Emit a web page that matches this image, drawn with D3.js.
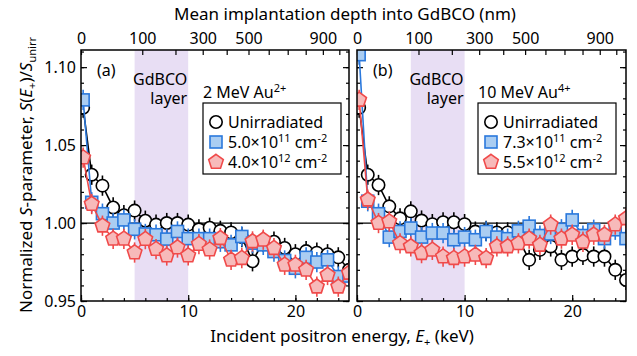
<!DOCTYPE html>
<html>
<head>
<meta charset="utf-8">
<script src="https://cdn.jsdelivr.net/npm/d3@7"></script>
<style>
  body { margin: 0; background: #fff; }
  svg text { font-family: "Noto Sans", sans-serif; fill: #000; }
</style>
</head>
<body>
<div id="chart"></div>
<script>
// incident positron energies (keV)
var energies = [0.2, 1, 2, 3, 4, 5, 6, 7, 8, 9, 10, 11, 12, 13, 14, 15, 16, 17, 18, 19, 20, 21, 22, 23, 24, 25];

// panel (a): 2 MeV Au2+
var unirrA = [1.074, 1.031, 1.024, 1.010, 1.005, 1.008, 1.0015, 0.999, 1.000, 1.000, 0.999, 0.996, 0.997, 0.995, 0.994, 0.991, 0.9755, 0.988, 0.988, 0.984, 0.980, 0.982, 0.981, 0.980, 0.978, 0.970];
var lowA   = [1.079, 1.0133, 1.006, 1.000, 1.002, 0.996, 0.993, 0.9925, 0.9897, 0.9946, 0.990, 0.990, 0.990, 0.988, 0.986, 0.9914, 0.9871, 0.986, 0.9817, 0.976, 0.971, 0.978, 0.975, 0.9764, 0.9657, 0.966];
var highA  = [1.042, 1.0122, 0.9983, 0.9899, 0.9899, 0.9811, 0.9897, 0.9833, 0.9792, 0.9843, 0.9792, 0.9865, 0.983, 0.9903, 0.9764, 0.9775, 0.9882, 0.9893, 0.9839, 0.9732, 0.9732, 0.970, 0.9592, 0.9667, 0.9592, 0.968];

// panel (b): 10 MeV Au4+
var unirrB = [1.074, 1.031, 1.0244, 1.0107, 1.003, 1.0075, 1.0016, 0.9993, 1.0005, 1.0005, 0.9993, 0.9945, 0.995, 0.994, 0.994, 0.990, 0.9764, 0.9828, 0.985, 0.9764, 0.9785, 0.9796, 0.9785, 0.9785, 0.970, 0.9635];
var lowB   = [1.108, 1.014, 1.006, 0.991, 0.9946, 0.9968, 0.991, 0.9936, 0.9936, 0.9893, 0.991, 0.9893, 0.9946, 0.991, 0.990, 0.995, 0.998, 0.992, 0.993, 0.996, 1.002, 0.992, 0.9957, 0.990, 0.9957, 0.990];
var highB  = [1.079, 1.015, 1.000, 1.001, 0.987, 0.985, 0.9807, 0.9828, 0.9785, 0.9775, 0.9785, 0.9796, 0.9775, 0.985, 0.985, 0.987, 0.990, 0.986, 0.999, 0.990, 0.9925, 0.988, 0.9925, 0.9925, 0.999, 1.003];

var errS = 0.0065;

var panelNames = ["(a)", "(b)"];
var ionLabels = [["2 MeV Au", "2+"], ["10 MeV Au", "4+"]];
var fluenceLabels = [[["5.0\u00d710", "11"], ["4.0\u00d710", "12"]], [["7.3\u00d710", "11"], ["5.5\u00d710", "12"]]];

var energyTicks = [0, 10, 20];
var sTicks = [0.95, 1.00, 1.05, 1.10];
var depthTicks = [0, 100, 200, 300, 400, 500, 600, 700, 800, 900, 1000];
var depthLabels = [0, 100, 300, 500, 900];
var layerRange = [5, 10];

// mean depth z = a * E^1.6 (nm)
var depthA = 6.15;

var W = 637, H = 356;
var svg = d3.select("#chart").append("svg")
  .attr("width", W).attr("height", H);

var yTop = 50, yBottom = 301;
var panels = [{x0: 81, x1: 349}, {x0: 357, x1: 626}];

var y = d3.scaleLinear().domain([0.95, 1.111]).range([yBottom, yTop]);

var styles = [
  {stroke: "#000", fill: "#fff", sym: "circle"},
  {stroke: "#2a78dc", fill: "#aacdf2", sym: "square"},
  {stroke: "#f04a4a", fill: "#f7baba", sym: "pentagon"}
];

var pentagon = {
  draw: function(ctx, size) {
    var r = Math.sqrt(size / 2.378);
    for (var i = 0; i < 5; i++) {
      var a = -Math.PI / 2 + i * 2 * Math.PI / 5;
      if (i == 0) ctx.moveTo(r * Math.cos(a), r * Math.sin(a));
      else ctx.lineTo(r * Math.cos(a), r * Math.sin(a));
    }
    ctx.closePath();
  }
};

function marker(sel, st) {
  if (st.sym == "circle") {
    sel.append("circle").attr("r", 6.2);
  } else if (st.sym == "square") {
    sel.append("rect").attr("x", -6).attr("y", -6).attr("width", 12).attr("height", 12);
  } else {
    sel.append("path").attr("d", d3.symbol().type(pentagon).size(140)());
  }
  sel.selectAll("*").attr("fill", st.fill).attr("stroke", st.stroke).attr("stroke-width", 1.6);
}

var allData = [[unirrA, lowA, highA], [unirrB, lowB, highB]];

panels.forEach(function(p, pi) {
  var x = d3.scaleLinear().domain([0, 25]).range([p.x0, p.x1]);
  var xDepth = d3.scalePow().exponent(0.625)
    .domain([0, depthA * Math.pow(25, 1.6)]).range([p.x0, p.x1]);

  var g = svg.append("g");

  g.append("clipPath").attr("id", "clip" + pi)
    .append("rect").attr("x", p.x0).attr("y", yTop)
    .attr("width", p.x1 - p.x0).attr("height", yBottom - yTop);

  // GdBCO layer band
  g.append("rect")
    .attr("x", x(layerRange[0])).attr("y", yTop)
    .attr("width", x(layerRange[1]) - x(layerRange[0]))
    .attr("height", yBottom - yTop)
    .attr("fill", "#e8def4");

  g.append("line")
    .attr("x1", p.x0).attr("x2", p.x1)
    .attr("y1", y(1)).attr("y2", y(1))
    .attr("stroke", "#000").attr("stroke-width", 1.3);

  // axes with inward ticks
  g.append("g").attr("transform", "translate(0," + yBottom + ")")
    .call(d3.axisBottom(x).tickValues(d3.range(0, 26, 2)).tickSize(-3).tickFormat(""));
  g.append("g").attr("class", "tl").attr("transform", "translate(0," + yBottom + ")")
    .call(d3.axisBottom(x).tickValues(energyTicks).tickSize(-6).tickPadding(5).tickFormat(d3.format("d")));

  g.append("g").attr("class", "tl").attr("transform", "translate(0," + yTop + ")")
    .call(d3.axisTop(xDepth).tickValues(depthTicks).tickSize(-5).tickPadding(6)
      .tickFormat(function(d) { return depthLabels.indexOf(d) >= 0 ? d : ""; }));

  var minorY = d3.range(95, 112).map(function(v) { return v / 100; });
  g.append("g").attr("transform", "translate(" + p.x0 + ",0)")
    .call(d3.axisLeft(y).tickValues(minorY).tickSize(-3).tickFormat(""));
  g.append("g").attr("transform", "translate(" + p.x1 + ",0)")
    .call(d3.axisRight(y).tickValues(minorY).tickSize(-3).tickFormat(""));
  g.append("g").attr("class", "tl").attr("transform", "translate(" + p.x0 + ",0)")
    .call(d3.axisLeft(y).tickValues(sTicks).tickSize(-6).tickPadding(5)
      .tickFormat(pi == 0 ? d3.format(".2f") : function() { return ""; }));
  g.append("g").attr("transform", "translate(" + p.x1 + ",0)")
    .call(d3.axisRight(y).tickValues(sTicks).tickSize(-6).tickFormat(""));

  g.selectAll(".domain").remove();
  g.selectAll(".tick line").attr("stroke", "#000").attr("stroke-width", 1.2);
  g.selectAll(".tl text").attr("font-size", 16).attr("font-family", "Noto Sans");

  // series
  var plot = g.append("g").attr("clip-path", "url(#clip" + pi + ")");
  allData[pi].forEach(function(vals, si) {
    var st = styles[si];
    var pts = energies.map(function(e, i) { return {e: e, v: vals[i]}; });
    plot.append("path").datum(pts)
      .attr("fill", "none").attr("stroke", st.stroke).attr("stroke-width", 1.6)
      .attr("d", d3.line().x(function(d) { return x(d.e); }).y(function(d) { return y(d.v); }));
    plot.selectAll(null).data(pts).enter().append("line")
      .attr("x1", function(d) { return x(d.e); }).attr("x2", function(d) { return x(d.e); })
      .attr("y1", function(d) { return y(d.v - errS); }).attr("y2", function(d) { return y(d.v + errS); })
      .attr("stroke", st.stroke).attr("stroke-width", 1.6);
    plot.selectAll(null).data(pts).enter().append("g")
      .attr("transform", function(d) { return "translate(" + x(d.e) + "," + y(d.v) + ")"; })
      .each(function() { marker(d3.select(this), st); });
  });

  g.append("rect")
    .attr("x", p.x0).attr("y", yTop)
    .attr("width", p.x1 - p.x0).attr("height", yBottom - yTop)
    .attr("fill", "none").attr("stroke", "#000").attr("stroke-width", 1.5);

  // annotations
  g.append("text").attr("x", p.x0 + 16).attr("y", 76).attr("font-size", 16).text(panelNames[pi]);
  var lt = g.append("text").attr("text-anchor", "end").attr("font-size", 16).attr("fill", "#222");
  lt.append("tspan").attr("x", x(layerRange[1]) - 1).attr("y", 85).text("GdBCO");
  lt.append("tspan").attr("x", x(layerRange[1]) - 1).attr("y", 104).text("layer");

  var lx = pi == 0 ? 203 : 478;
  var ion = g.append("text").attr("x", lx).attr("y", 98).attr("font-size", 16);
  ion.append("tspan").text(ionLabels[pi][0]);
  ion.append("tspan").attr("dy", -6).attr("font-size", 11).text(ionLabels[pi][1]);

  g.append("rect").attr("x", lx).attr("y", 103).attr("width", 138).attr("height", 71)
    .attr("fill", "#fff").attr("stroke", "#000").attr("stroke-width", 1.2);

  var rows = [122, 142, 162];
  rows.forEach(function(ry, si) {
    var mk = g.append("g").attr("transform", "translate(" + (lx + 13) + "," + ry + ")");
    marker(mk, styles[si]);
    var t = g.append("text").attr("x", lx + 25).attr("y", ry + 5.5).attr("font-size", 16);
    if (si == 0) {
      t.text("Unirradiated");
    } else {
      var fl = fluenceLabels[pi][si - 1];
      t.append("tspan").text(fl[0]);
      t.append("tspan").attr("dy", -6).attr("font-size", 11).text(fl[1]);
      t.append("tspan").attr("dy", 6).text(" cm");
      t.append("tspan").attr("dy", -6).attr("font-size", 11).text("-2");
    }
  });
});

// titles
svg.append("text").attr("x", 345).attr("y", 20).attr("text-anchor", "middle").attr("font-size", 17)
  .text("Mean implantation depth into GdBCO (nm)");

var xl = svg.append("text").attr("x", 342).attr("y", 342).attr("text-anchor", "middle").attr("font-size", 17);
xl.append("tspan").text("Incident positron energy, ");
xl.append("tspan").attr("font-style", "italic").text("E");
xl.append("tspan").attr("dy", 4).attr("font-size", 11).text("+");
xl.append("tspan").attr("dy", -4).text(" (keV)");

var yl = svg.append("text").attr("transform", "translate(32,175) rotate(-90)")
  .attr("text-anchor", "middle").attr("font-size", 17);
yl.append("tspan").text("Normalized ");
yl.append("tspan").attr("font-style", "italic").text("S");
yl.append("tspan").text("-parameter, ");
yl.append("tspan").attr("font-style", "italic").text("S");
yl.append("tspan").text("(");
yl.append("tspan").attr("font-style", "italic").text("E");
yl.append("tspan").attr("dy", 4).attr("font-size", 11).text("+");
yl.append("tspan").attr("dy", -4).text(")/");
yl.append("tspan").attr("font-style", "italic").text("S");
yl.append("tspan").attr("dy", 4).attr("font-size", 11).text("unirr");
</script>
</body>
</html>
